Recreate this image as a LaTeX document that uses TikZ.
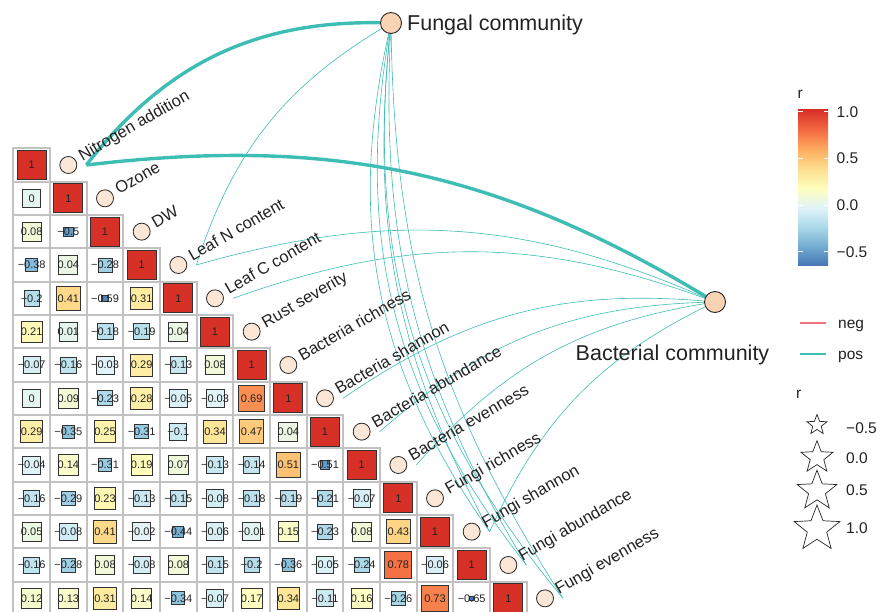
\documentclass[tikz,border=0pt]{standalone}
\usepackage{fontspec}
\setmainfont{Liberation Sans}
\usetikzlibrary{calc,shapes.geometric}
\pgfdeclarelayer{bg}
\pgfsetlayers{bg,main}
\definecolor{c0}{HTML}{4575B4}
\definecolor{c1}{HTML}{74ADD1}
\definecolor{c2}{HTML}{ABD9E9}
\definecolor{c3}{HTML}{E0F3F8}
\definecolor{c4}{HTML}{FFFFBF}
\definecolor{c5}{HTML}{FEE090}
\definecolor{c6}{HTML}{FDAE61}
\definecolor{c7}{HTML}{F46D43}
\definecolor{c8}{HTML}{D73027}
\definecolor{tealc}{HTML}{3DBDB3}
\definecolor{negc}{HTML}{F2737D}
\definecolor{gridgray}{HTML}{C2C2C2}
\definecolor{envfill}{HTML}{FCE6D6}
\definecolor{comfill}{HTML}{F9D3B3}
\definecolor{txtc}{HTML}{222222}
\newcommand\setrcol[1]{%
  \pgfmathsetmacro\rt{(#1+0.65)/0.20625}%
  \pgfmathtruncatemacro\ri{max(0,min(floor(\rt),7))}%
  \pgfmathtruncatemacro\rj{\ri+1}%
  \pgfmathsetmacro\rf{max(0,min(100,(\rt-\ri)*100))}%
  \edef\tmpcol{\noexpand\colorlet{cellc}{c\rj!\rf!c\ri}}\tmpcol}
\def\stripm-#1\relax{#1}
\newcommand\cellnum[1]{\ifdim#1pt<0pt −\expandafter\stripm#1\relax\else#1\fi}
\newcommand\mcell[3]{%
  \pgfmathsetmacro\cx{13.333+(#2-0.5)*36.667}%
  \pgfmathsetmacro\cy{-(148.333+(#1-0.5)*33.333)}%
  \pgfmathsetmacro\side{sqrt(500*(#3+0.68))}%
  \setrcol{#3}%
  \draw[gridcell] (\cx-18.333,\cy-16.667) rectangle (\cx+18.333,\cy+16.667);
  \node[sq, fill=cellc, minimum size=\side pt] (sq-#1-#2) at (\cx,\cy) {};
  \node[numtxt] (v-#1-#2) at (\cx,\cy) {\cellnum{#3}};
}
\begin{document}
\begin{tikzpicture}[x=1pt,y=1pt,
  gridcell/.style={draw=gridgray, line width=1.9pt},
  sq/.style={rectangle, draw=black!80, line width=0.8pt, inner sep=0pt, outer sep=0pt},
  numtxt/.style={font=\fontsize{11}{12}\selectfont, text=txtc, inner sep=0pt},
  envnode/.style={circle, draw=black!85, fill=envfill, line width=0.8pt, minimum size=17pt, inner sep=0pt},
  comnode/.style={circle, draw=black!85, fill=comfill, line width=0.9pt, minimum size=21pt, inner sep=0pt},
  envlabel/.style={rotate=30, anchor=base west, font=\fontsize{16.5}{18}\selectfont, text=txtc, inner sep=0pt},
  comlabel/.style={font=\fontsize{21.5}{24}\selectfont, text=txtc, inner sep=0pt},
  thicklink/.style={draw=tealc, line width=3.4pt},
  thinlink/.style={draw=tealc, line width=0.6pt},
  leglabel/.style={font=\fontsize{15.5}{17}\selectfont, anchor=base west, inner sep=0pt, text=txtc},
  starkey/.style={star, star points=5, star point ratio=2.35, draw=black!85, line width=0.7pt, inner sep=0pt}
]
\useasboundingbox (0,0) rectangle (881,-612);

% correlation matrix
\begin{scope}
\clip (0,0) rectangle (881,-612);
\foreach \val [count=\j] in {0} {\mcell{2}{\j}{\val}}
\foreach \val [count=\j] in {0.08,-0.5} {\mcell{3}{\j}{\val}}
\foreach \val [count=\j] in {-0.38,0.04,-0.28} {\mcell{4}{\j}{\val}}
\foreach \val [count=\j] in {-0.2,0.41,-0.59,0.31} {\mcell{5}{\j}{\val}}
\foreach \val [count=\j] in {0.21,0.01,-0.18,-0.19,0.04} {\mcell{6}{\j}{\val}}
\foreach \val [count=\j] in {-0.07,-0.16,-0.03,0.29,-0.13,0.08} {\mcell{7}{\j}{\val}}
\foreach \val [count=\j] in {0,0.09,-0.23,0.28,-0.05,-0.03,0.69} {\mcell{8}{\j}{\val}}
\foreach \val [count=\j] in {0.29,-0.35,0.25,-0.31,-0.1,0.34,0.47,0.04} {\mcell{9}{\j}{\val}}
\foreach \val [count=\j] in {-0.04,0.14,-0.31,0.19,0.07,-0.13,-0.14,0.51,-0.51} {\mcell{10}{\j}{\val}}
\foreach \val [count=\j] in {-0.16,-0.29,0.23,-0.13,-0.15,-0.08,-0.18,-0.19,-0.21,-0.07} {\mcell{11}{\j}{\val}}
\foreach \val [count=\j] in {0.05,-0.08,0.41,-0.02,-0.44,-0.06,-0.01,0.15,-0.23,0.08,0.43} {\mcell{12}{\j}{\val}}
\foreach \val [count=\j] in {-0.16,-0.28,0.08,-0.08,0.08,-0.15,-0.2,-0.36,-0.05,-0.24,0.78,-0.06} {\mcell{13}{\j}{\val}}
\foreach \val [count=\j] in {0.12,0.13,0.31,0.14,-0.34,-0.07,0.17,0.34,-0.11,0.16,-0.26,0.73,-0.65} {\mcell{14}{\j}{\val}}
\foreach \i in {1,...,14} {\mcell{\i}{\i}{1}}
\end{scope}

% variable nodes
\foreach \i/\lab in {1/Nitrogen addition,2/Ozone,3/DW,4/Leaf N content,5/Leaf C content,6/Rust severity,7/Bacteria richness,8/Bacteria shannon,9/Bacteria abundance,10/Bacteria evenness,11/Fungi richness,12/Fungi shannon,13/Fungi abundance,14/Fungi evenness}{
  \node[envnode] (e\i) at ({13.333+(\i+0.5)*36.667},{-(148.333+(\i-0.5)*33.333)}) {};
  \coordinate (p\i) at ($(e\i.center)+(18,0)$);
  \node[envlabel] (lab\i) at ($(e\i.center)+(14,3.5)$) {\lab};
}

% community nodes
\node[comnode] (fungal) at (391,-23) {};
\node[comnode] (bact) at (715,-302) {};
\node[comlabel, anchor=base west] (fungallab) at (407,-30.5) {Fungal community};
\node[comlabel, anchor=base] (bactlab) at (672.5,-360) {Bacterial community};

% links
\begin{pgfonlayer}{bg}
\draw[thicklink] (p1) to[bend left=27] (fungal.center);
\draw[thicklink] (p1) to[bend left=19] (bact.center);
\draw[thinlink] (p4) to[bend left=21] (fungal.center);
\draw[thinlink] (p12) to[bend left=17] (fungal.center);
\draw[thinlink] (p12) to[bend left=24] (fungal.center);
\draw[thinlink] (p13) to[bend left=17] (fungal.center);
\draw[thinlink] (p13) to[bend left=24] (fungal.center);
\draw[thinlink] (p14) to[bend left=16] (fungal.center);
\draw[thinlink] (p14) to[bend left=23] (fungal.center);
\draw[thinlink] (p4) to[bend left=20] (bact.center);
\draw[thinlink] (p5) to[bend left=20] (bact.center);
\draw[thinlink] (p8) to[bend left=20] (bact.center);
\draw[thinlink] (p9) to[bend left=20] (bact.center);
\draw[thinlink] (p10) to[bend left=20] (bact.center);
\draw[thinlink] (p12) to[bend left=20] (bact.center);
\end{pgfonlayer}

% colour bar legend
\node[leglabel] (rtitle) at (797.5,-98.5) {r};
\shade[bottom color=c0, top color=c1] (798,-265.67) rectangle (828,-246.2);
\shade[bottom color=c1, top color=c2] (798,-246.42) rectangle (828,-226.95);
\shade[bottom color=c2, top color=c3] (798,-227.17) rectangle (828,-207.7);
\shade[bottom color=c3, top color=c4] (798,-207.92) rectangle (828,-188.45);
\shade[bottom color=c4, top color=c5] (798,-188.67) rectangle (828,-169.2);
\shade[bottom color=c5, top color=c6] (798,-169.42) rectangle (828,-149.95);
\shade[bottom color=c6, top color=c7] (798,-150.17) rectangle (828,-130.7);
\shade[bottom color=c7, top color=c8] (798,-130.92) rectangle (828,-110);
\foreach \yy/\tl in {111.67/1.0,158.33/0.5,205/0.0,251.67/−0.5}{
  \draw[white, line width=0.8pt] (798,-\yy) -- (802.5,-\yy) (823.5,-\yy) -- (828,-\yy);
  \node[leglabel] (tick\yy) at (836.5,-\yy-5.5) {\tl};
}

% link legend
\coordinate (negA) at (800,-322.7);
\coordinate (negB) at (826,-322.7);
\coordinate (posA) at (800,-354);
\coordinate (posB) at (826,-354);
\draw[negc, line width=2pt] (negA) -- (negB);
\draw[tealc, line width=2pt] (posA) -- (posB);
\node[leglabel] (negl) at (838,-328.3) {neg};
\node[leglabel] (posl) at (838,-359.3) {pos};

% star legend
\node[leglabel] (rtitle2) at (796,-398) {r};
\node[starkey, minimum size=21pt] (s1) at (817,-425) {};
\node[starkey, minimum size=33.6pt] (s2) at (817,-457.5) {};
\node[starkey, minimum size=41.6pt] (s3) at (817,-491) {};
\node[starkey, minimum size=48pt] (s4) at (817,-529) {};
\node[leglabel] (sl1) at (846,-433) {−0.5};
\node[leglabel] (sl2) at (846,-463.5) {0.0};
\node[leglabel] (sl3) at (846,-495.5) {0.5};
\node[leglabel] (sl4) at (846,-533.5) {1.0};
\end{tikzpicture}
\end{document}
